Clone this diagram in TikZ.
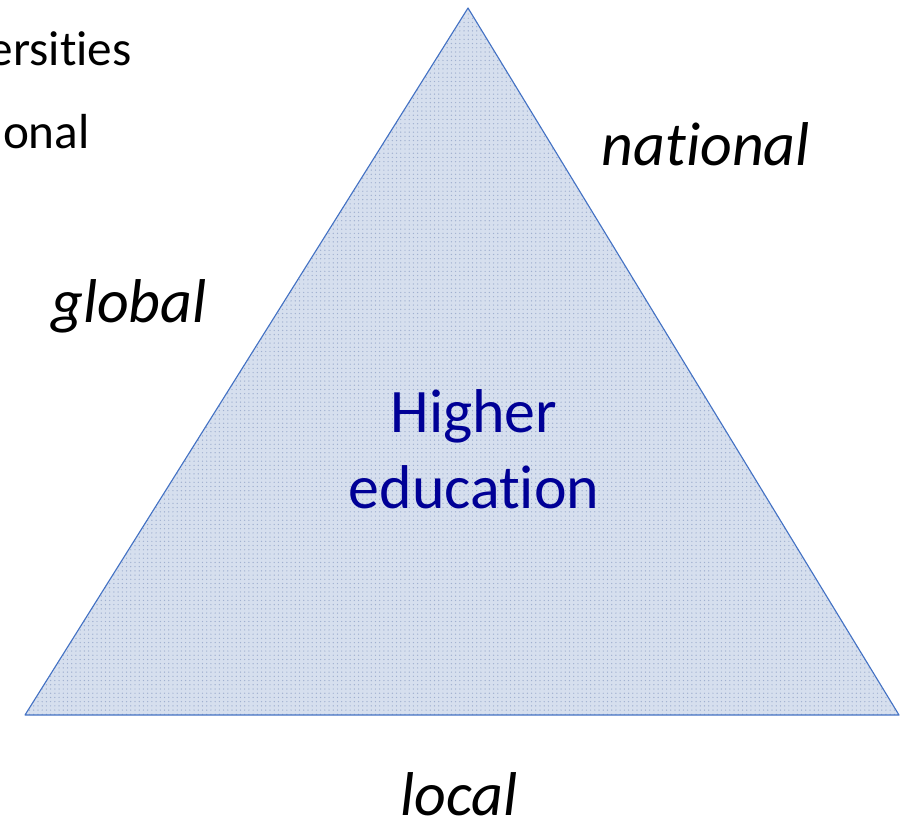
\documentclass[tikz,border=0pt]{standalone}
\usepackage{fontspec}
\setmainfont{Carlito}[Ligatures=NoCommon, RawFeature={-liga;-calt;-dlig}]
\usetikzlibrary{patterns}
\definecolor{edgeblue}{RGB}{68,114,196}
\definecolor{trifill}{RGB}{214,223,238}
\definecolor{dotcol}{RGB}{160,176,208}
\definecolor{heblue}{RGB}{0,0,150}
\tikzset{
  level/.style={font=\fontsize{44}{52}\selectfont\itshape, anchor=base},
  centre/.style={font=\fontsize{44}{52}\selectfont, text=heblue, anchor=base},
  cutoff/.style={font=\fontsize{35}{42}\selectfont, anchor=base east, inner sep=0pt},
}

\begin{document}
\begin{tikzpicture}[x=0.025cm,y=-0.025cm]
      \useasboundingbox (0,0) rectangle (912,824);
      \coordinate (apex) at (468,8);
      \coordinate (bl) at (25,715);
      \coordinate (br) at (899,715);

      % the triangle
      \fill[trifill] (apex) -- (bl) -- (br) -- cycle;
      \fill[pattern=dots, pattern color=dotcol] (apex) -- (bl) -- (br) -- cycle;
      \draw[edgeblue, line width=0.8pt, line join=round] (apex) -- (bl) -- (br) -- cycle;

      \node[cutoff] (uni) at (132,65) {ersities};
      \node[cutoff] (reg) at (90,148) {onal};

      \node[level] (nat) at (706,165) {national};
      \node[level] (glob) at (129,322) {global};
      \node[level] (loc) at (459,815) {local};

      \node[centre] (higher) at (474,432) {Higher};
      \node[centre] (edu) at (474,508) {education};
    \end{tikzpicture}
\end{document}
